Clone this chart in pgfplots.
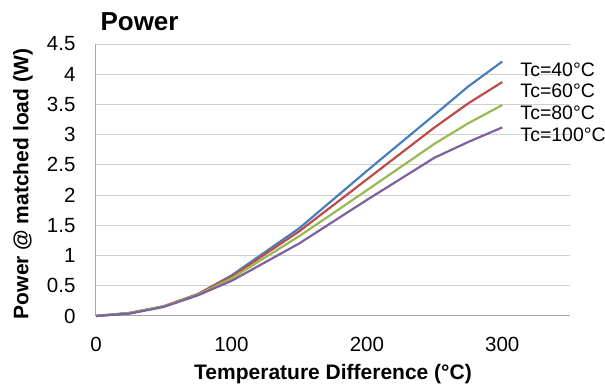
\documentclass[border=0pt]{standalone}
\usepackage{pgfplots}
\pgfplotsset{compat=1.18}
\usepackage{fontspec}
\setmainfont{Liberation Sans}
\definecolor{cblue}{HTML}{4A7EBB}
\definecolor{cred}{HTML}{BE4B48}
\definecolor{cgreen}{HTML}{98B954}
\definecolor{cpurple}{HTML}{7D60A0}
\definecolor{cgrid}{HTML}{D0D0D0}
\definecolor{caxis}{HTML}{A6A6A6}
\pgfplotstableread{
x b r g p
0 0 0 0 0
25 0.05 0.05 0.05 0.04
50 0.16 0.16 0.16 0.15
75 0.36 0.36 0.35 0.34
100 0.67 0.65 0.62 0.58
150 1.45 1.40 1.32 1.20
200 2.40 2.26 2.08 1.92
250 3.33 3.12 2.85 2.62
275 3.80 3.52 3.19 2.88
300 4.21 3.87 3.49 3.12
}\data
\begin{document}
\begin{tikzpicture}
\path[use as bounding box] (-96pt,-69pt) rectangle (509pt,316pt);
\begin{axis}[
  at={(0,0)}, anchor=south west,
  scale only axis, width=474pt, height=272pt,
  xmin=0, xmax=350, ymin=0, ymax=4.5,
  xtick={0,100,200,300},
  ytick={0,0.5,...,4.5},
  axis lines=left,
  axis line style={draw=caxis, line width=1pt, -},
  major tick length=0pt,
  ymajorgrids, grid style={draw=cgrid, line width=1pt},
  /pgf/number format/assume math mode=true,
  tick label style={font=\fontsize{20.5}{22}\selectfont},
  yticklabel style={xshift=-17pt},
  xticklabel style={yshift=-18pt},
  xlabel={\textbf{Temperature Difference (°C)}},
  ylabel={\textbf{Power @ matched load (W)}},
  label style={font=\fontsize{21}{24}\selectfont},
  xlabel style={at={(axis description cs:0.5,-0.215)}, anchor=center},
  ylabel style={at={(axis description cs:-0.154,0.485)}, anchor=center},
  title={\textbf{Power}},
  title style={at={(axis description cs:0,1)}, anchor=base west, xshift=1pt, yshift=8pt, font=\fontsize{26}{30}\selectfont},
  clip=false,
  every axis plot/.append style={line width=2.2pt},
]
\addplot[cblue] table[x=x,y=b] {\data};
\addplot[cred] table[x=x,y=r] {\data};
\addplot[cgreen] table[x=x,y=g] {\data};
\addplot[cpurple] table[x=x,y=p] {\data};
\begin{scope}[every node/.style={anchor=west, inner sep=0pt, font=\fontsize{19.5}{22}\selectfont}]
\node at (axis cs:300,4.07) [xshift=18pt] {Tc=40°C};
\node at (axis cs:300,3.72) [xshift=18pt] {Tc=60°C};
\node at (axis cs:300,3.36) [xshift=18pt] {Tc=80°C};
\node at (axis cs:300,3.00) [xshift=18pt] {Tc=100°C};
\end{scope}
\end{axis}
\end{tikzpicture}
\end{document}
